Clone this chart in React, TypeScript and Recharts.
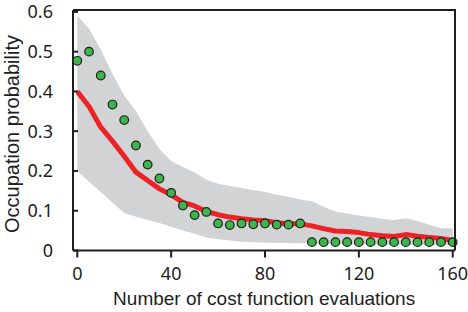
import React from "react";
import { ComposedChart, Area, Line, XAxis, YAxis } from "recharts";

// number of cost function evaluations
const evals = [
  0, 5, 10, 15, 20, 25, 30, 35, 40, 45, 50, 55, 60, 65, 70, 75, 80, 85, 90, 95,
  100, 105, 110, 115, 120, 125, 130, 135, 140, 145, 150, 155, 160,
];

// mean occupation probability (red line)
const meanProb = [
  0.4, 0.362, 0.31, 0.275, 0.237, 0.197, 0.176, 0.155, 0.14, 0.121, 0.112, 0.098,
  0.09, 0.084, 0.08, 0.077, 0.075, 0.07, 0.067, 0.067, 0.062, 0.055, 0.049, 0.048,
  0.045, 0.04, 0.037, 0.035, 0.04, 0.036, 0.033, 0.03, 0.025,
];

// spread (grey band)
const lowerProb = [
  0.2, 0.173, 0.147, 0.12, 0.094, 0.085, 0.077, 0.069, 0.06, 0.05, 0.042, 0.033,
  0.028, 0.025, 0.022, 0.021, 0.02, 0.019, 0.019, 0.018, 0.018, 0.017, 0.017,
  0.016, 0.016, 0.016, 0.015, 0.015, 0.015, 0.014, 0.014, 0.014, 0.014,
];
const upperProb = [
  0.59, 0.558, 0.505, 0.444, 0.39, 0.35, 0.3, 0.255, 0.225, 0.21, 0.196, 0.178,
  0.168, 0.162, 0.157, 0.152, 0.147, 0.14, 0.135, 0.128, 0.124, 0.11, 0.098, 0.093,
  0.088, 0.084, 0.08, 0.077, 0.081, 0.074, 0.065, 0.056, 0.056,
];

// single run (green dots)
const sampleProb = [
  0.477, 0.5, 0.44, 0.367, 0.328, 0.264, 0.216, 0.181, 0.145, 0.113, 0.089, 0.097,
  0.068, 0.064, 0.068, 0.066, 0.068, 0.065, 0.065, 0.068, 0.021, 0.021, 0.021,
  0.021, 0.021, 0.021, 0.021, 0.021, 0.021, 0.021, 0.021, 0.021, 0.021,
];

const xTicks = [0, 40, 80, 120, 160];
const yTicks = [0, 0.1, 0.2, 0.3, 0.4, 0.5, 0.6];

const chartData = evals.map((n, i) => ({
  n,
  band: [lowerProb[i], upperProb[i]],
  mean: meanProb[i],
  sample: sampleProb[i],
}));

const W = 468;
const H = 312;
const MARGIN = { top: 10.3, right: 12.7, bottom: 0, left: 0 };
const PLOT_LEFT = 73;
const X_AXIS_H = 61.5;
const PLOT_RIGHT = W - MARGIN.right;
const PLOT_BOTTOM = H - X_AXIS_H;
const INK = "#1e1e1e";
const tickFont = { fontFamily: "'Noto Sans', sans-serif", fontSize: 18, fill: INK };
const labelFont = "'Liberation Sans', Arial, sans-serif";

const YTick = (props: any) => {
  const { x, y, payload } = props;
  return (
    <g>
      <line x1={PLOT_LEFT} x2={PLOT_LEFT + 5} y1={y} y2={y} stroke={INK} strokeWidth={2} />
      <text x={x} y={y} dy="0.36em" textAnchor="end" {...tickFont}>
        {payload.value}
      </text>
    </g>
  );
};

const XLabel = () => (
  <text
    x={(PLOT_LEFT + PLOT_RIGHT) / 2}
    y={305}
    textAnchor="middle"
    fontFamily={labelFont}
    fontSize={19}
    fill={INK}
  >
    Number of cost function evaluations
  </text>
);

const YLabel = () => (
  <text
    x={0}
    y={0}
    transform="translate(18.5,134) rotate(-90)"
    textAnchor="middle"
    fontFamily={labelFont}
    fontSize={20}
    fill={INK}
  >
    Occupation probability
  </text>
);

const xDomain = [-1.83, 161.1];
const yDomain = [0, 0.604];

export default function App() {
  return (
    <div style={{ position: "absolute", left: 0, top: 0, width: W, height: H, background: "#fff" }}>
      <ComposedChart width={W} height={H} data={chartData} margin={MARGIN}>
        <Area
          type="linear"
          dataKey="band"
          stroke="none"
          fill="#d2d3d5"
          fillOpacity={1}
          isAnimationActive={false}
          activeDot={false}
        />
        <Line
          type="linear"
          dataKey="mean"
          stroke="#ec2227"
          strokeWidth={5}
          strokeLinejoin="round"
          dot={false}
          activeDot={false}
          isAnimationActive={false}
        />
        <Line
          type="linear"
          dataKey="sample"
          stroke="transparent"
          strokeWidth={0}
          dot={{ r: 4.3, fill: "#3db54a", stroke: INK, strokeWidth: 1.2 }}
          activeDot={false}
          isAnimationActive={false}
        />

        <XAxis
          dataKey="n"
          type="number"
          domain={xDomain}
          ticks={xTicks}
          height={X_AXIS_H}
          tickSize={7}
          tickMargin={10}
          tick={tickFont}
          axisLine={{ stroke: INK, strokeWidth: 2 }}
          tickLine={{ stroke: INK, strokeWidth: 2 }}
          label={<XLabel />}
        />
        <YAxis
          type="number"
          domain={yDomain}
          ticks={yTicks}
          width={PLOT_LEFT}
          tickSize={0}
          tickMargin={20}
          tick={YTick}
          tickLine={false}
          axisLine={{ stroke: INK, strokeWidth: 2 }}
          label={<YLabel />}
        />
      </ComposedChart>
      {/* top and right sides of the box frame */}
      <div
        style={{
          position: "absolute",
          left: PLOT_LEFT,
          top: MARGIN.top - 1,
          width: PLOT_RIGHT - PLOT_LEFT + 1,
          height: PLOT_BOTTOM - MARGIN.top + 1,
          borderTop: `2px solid ${INK}`,
          borderRight: `2px solid ${INK}`,
          boxSizing: "border-box",
          pointerEvents: "none",
        }}
      />
    </div>
  );
}
